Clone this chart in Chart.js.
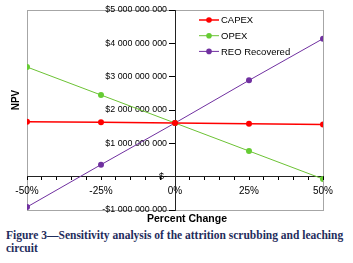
<!DOCTYPE html>
<html>
<head>
<meta charset="utf-8">
<script src="https://cdn.jsdelivr.net/npm/chart.js"></script>
<style>
  body { margin: 0; background: #fff; }
  #caption {
    position: absolute; left: 6px; top: 228.5px; width: 347px;
    font-family: "Liberation Serif", serif; font-weight: bold; font-size: 11.5px;
    line-height: 13px; color: #1f2d5c;
  }
</style>
</head>
<body>
<canvas id="myChart" width="353" height="226"></canvas>
<div id="caption">Figure 3—Sensitivity analysis of the attrition scrubbing and leaching circuit</div>
<script>
//DATA
const percentChange = [-50, -25, 0, 25, 50];
const capex = [1.65e9, 1.635e9, 1.61e9, 1.59e9, 1.565e9];
const opex = [3.29e9, 2.45e9, 1.61e9, 0.77e9, -0.07e9];
const reoRecovered = [-0.91e9, 0.36e9, 1.61e9, 2.89e9, 4.14e9];
const xTickLabels = [-50, -25, 0, 25, 50];

function toPoints(values) {
  return values.map((v, i) => ({ x: percentChange[i], y: v }));
}

function money(v) {
  if (v === 0) return "$-";
  let s = Math.abs(v).toFixed(0).replace(/\B(?=(\d{3})+(?!\d))/g, " ");
  return (v < 0 ? "-$" : "$") + s;
}

//PLOT BORDER, AXIS TITLES AND LEGEND
const extras = {
  id: "extras",
  afterLayout(chart) {
    // centred y axis ignores tick padding, so nudge its labels left
    const ys = chart.scales.y;
    if (ys._shifted) return;
    const orig = ys.drawLabels;
    ys.drawLabels = function (area) {
      this.ctx.save();
      this.ctx.translate(-8, 0);
      orig.call(this, area);
      this.ctx.restore();
    };
    ys._shifted = true;
  },
  beforeDraw(chart) {
    const { ctx, chartArea: a } = chart;
    ctx.save();
    ctx.strokeStyle = "#a6a6a6";
    ctx.lineWidth = 1;
    ctx.strokeRect(a.left + 0.5, a.top + 0.5, a.right - a.left, a.bottom - a.top);
    ctx.restore();
  },
  afterDraw(chart) {
    const { ctx, chartArea: a } = chart;
    ctx.save();
    ctx.fillStyle = "#000";
    ctx.font = "bold 10px 'Liberation Sans', Arial, sans-serif";
    ctx.textAlign = "center";
    ctx.textBaseline = "middle";
    ctx.translate(16, 100);
    ctx.rotate(-Math.PI / 2);
    ctx.fillText("NPV", 0, 0);
    ctx.restore();

    ctx.save();
    ctx.fillStyle = "#000";
    ctx.font = "bold 10.5px 'Liberation Sans', Arial, sans-serif";
    ctx.textAlign = "center";
    ctx.textBaseline = "middle";
    ctx.fillText("Percent Change", 187, 219);
    ctx.restore();

    // legend
    ctx.save();
    ctx.font = "9.5px 'Liberation Sans', Arial, sans-serif";
    ctx.textBaseline = "middle";
    chart.data.datasets.forEach((ds, i) => {
      const y = 20 + i * 15.7;
      ctx.strokeStyle = ds.borderColor;
      ctx.lineWidth = ds.borderWidth;
      ctx.beginPath();
      ctx.moveTo(199, y);
      ctx.lineTo(219, y);
      ctx.stroke();
      ctx.fillStyle = ds.backgroundColor;
      ctx.beginPath();
      ctx.arc(209, y, 2.8, 0, Math.PI * 2);
      ctx.fill();
      ctx.fillStyle = "#000";
      ctx.fillText(ds.label, 221, y + 0.5);
    });
    ctx.restore();
  }
};

const data = {
  datasets: [
    {
      label: "CAPEX",
      data: toPoints(capex),
      borderColor: "#ff0000",
      backgroundColor: "#ff0000",
      borderWidth: 1.5,
      pointRadius: 3,
      pointBorderWidth: 0,
    },
    {
      label: "OPEX",
      data: toPoints(opex),
      borderColor: "#6cc234",
      backgroundColor: "#66cc33",
      borderWidth: 1,
      pointRadius: 3,
      pointBorderWidth: 0,
    },
    {
      label: "REO Recovered",
      data: toPoints(reoRecovered),
      borderColor: "#7030a0",
      backgroundColor: "#7030a0",
      borderWidth: 1,
      pointRadius: 3,
      pointBorderWidth: 0,
    },
  ],
};

const config = {
  type: "line",
  data,
  plugins: [extras],
  options: {
    responsive: false,
    animation: false,
    layout: { padding: { left: 27, right: 30, top: 10, bottom: 16 } },
    plugins: { legend: { display: false }, tooltip: { enabled: false } },
    scales: {
      x: {
        type: "linear",
        position: { y: 0 },
        min: -50,
        max: 50,
        grid: { drawOnChartArea: false, tickColor: "#000", tickLength: 3 },
        border: { color: "#222", width: 1 },
        ticks: {
          stepSize: 5,
          autoSkip: false,
          maxRotation: 0,
          padding: 6,
          color: "#000",
          font: { family: "'Liberation Sans', Arial, sans-serif", size: 10 },
          callback: (v) => (xTickLabels.includes(v) ? v + "%" : ""),
        },
      },
      y: {
        type: "linear",
        position: { x: 0 },
        min: -1e9,
        max: 5e9,
        grid: { drawOnChartArea: false, tickColor: "#000", tickLength: 6 },
        border: { color: "#222", width: 1 },
        ticks: {
          stepSize: 1e9,
          color: "#000",
          font: { family: "'Liberation Sans', Arial, sans-serif", size: 8.9 },
          callback: (v) => money(v),
        },
      },
    },
  },
};

var myChart = new Chart(document.getElementById("myChart"), config);
</script>
</body>
</html>
